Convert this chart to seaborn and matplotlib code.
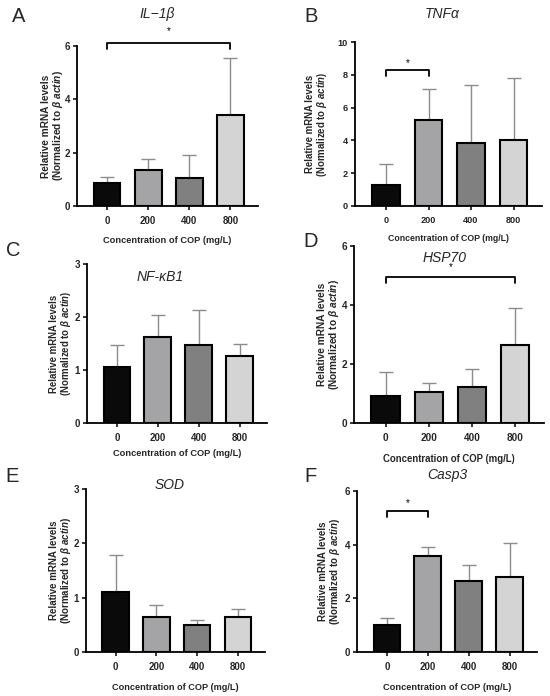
import matplotlib
matplotlib.use("Agg")
import matplotlib.pyplot as plt
import seaborn as sns

# ---- data ----
concentrations = ["0", "200", "400", "800"]
bar_colors = ["#0a0a0a", "#a4a4a6", "#808080", "#d4d4d4"]

panel_letters = ["A", "B", "C", "D", "E", "F"]
gene_names = ["IL\u22121\u03b2", "TNF\u03b1", "NF-\u03baB1", "HSP70", "SOD", "Casp3"]

il1b_mean = [0.86, 1.34, 1.05, 3.43]
il1b_sd = [0.23, 0.44, 0.88, 2.12]
tnfa_mean = [1.30, 5.22, 3.84, 4.04]
tnfa_sd = [1.28, 1.93, 3.56, 3.78]
nfkb1_mean = [1.06, 1.62, 1.47, 1.27]
nfkb1_sd = [0.42, 0.42, 0.66, 0.23]
hsp70_mean = [0.90, 1.04, 1.23, 2.64]
hsp70_sd = [0.82, 0.33, 0.59, 1.25]
sod_mean = [1.10, 0.64, 0.50, 0.65]
sod_sd = [0.68, 0.22, 0.08, 0.14]
casp3_mean = [0.99, 3.59, 2.63, 2.80]
casp3_sd = [0.27, 0.34, 0.62, 1.25]

y_max = [6, 10, 3, 6, 3, 6]
y_step = [2, 2, 1, 2, 1, 2]

# significance brackets: (from bar, to bar, bracket y, tip y, star y)
significance = {
    0: (0, 3, 6.10, 5.87, 6.55),
    1: (0, 1, 8.27, 7.90, 8.70),
    3: (0, 3, 4.95, 4.75, 5.30),
    5: (0, 1, 5.24, 5.04, 5.55),
}

means = [il1b_mean, tnfa_mean, nfkb1_mean, hsp70_mean, sod_mean, casp3_mean]
sds = [il1b_sd, tnfa_sd, nfkb1_sd, hsp70_sd, sod_sd, casp3_sd]

# ---- layout (pixels on a 550 x 696 canvas) ----
W, H = 550, 696
# axes: left, right, top, bottom
axes_px = [
    (77, 258, 46, 206),
    (355, 542, 42, 206),
    (87, 267, 264, 423),
    (354, 544, 246, 423),
    (86, 265, 489, 652),
    (357, 537, 491, 652),
]
title_px = [(157, 14), (442, 14), (160, 277), (445, 258), (170, 485), (447, 475)]
letter_px = [(19, 17), (311, 17), (13, 250), (311, 242), (12, 477), (310, 476)]
xlabel_y_px = [241, 239, 453, 459, 687, 687]
ylabel_x_px = [53, 317, 61, 329, 61, 330]
tick_fs = [7.0, 6.6, 7.0, 7.2, 7.0, 7.0]
xlabel_fs = [6.7, 6.3, 6.7, 6.9, 6.6, 6.7]
ylabel_fs = [7.3, 6.9, 6.9, 7.3, 7.0, 7.0]


def main():
    sns.set_style("ticks")
    plt.rcParams["font.family"] = ["Liberation Sans", "DejaVu Sans"]
    plt.rcParams["mathtext.fontset"] = "custom"
    plt.rcParams["mathtext.rm"] = "Liberation Sans:bold"
    plt.rcParams["mathtext.it"] = "Liberation Sans:italic:bold"
    plt.rcParams["mathtext.bf"] = "Liberation Sans:bold"

    fig = plt.figure(figsize=(W / 100, H / 100), dpi=100)
    fig.patch.set_facecolor("white")

    for i in range(6):
        l, r, t, b = axes_px[i]
        ax = fig.add_axes([l / W, 1 - b / H, (r - l) / W, (b - t) / H])

        sns.barplot(
            x=concentrations,
            y=means[i],
            hue=concentrations,
            palette=bar_colors,
            legend=False,
            width=0.65,
            edgecolor="black",
            linewidth=1.5,
            errorbar=None,
            ax=ax,
        )
        ax.errorbar(
            range(4),
            means[i],
            yerr=[[0] * 4, sds[i]],
            fmt="none",
            ecolor="#8c8c8c",
            elinewidth=1.0,
            capsize=5,
            capthick=1.0,
            zorder=0.9,
        )

        ax.set_xlim(-0.73, 3.67)
        ax.set_ylim(0, y_max[i])
        ax.set_yticks(range(0, y_max[i] + 1, y_step[i]))
        sns.despine(ax=ax)
        for side in ["left", "bottom"]:
            ax.spines[side].set_linewidth(1.3)
            ax.spines[side].set_color("black")
        ax.tick_params(axis="both", width=1.1, color="black",
                       labelsize=tick_fs[i])
        ax.tick_params(axis="y", length=3, pad=2)
        ax.tick_params(axis="x", length=3, pad=4)
        for lab in ax.get_xticklabels() + ax.get_yticklabels():
            lab.set_fontweight("bold")

        ax.set_xlabel("Concentration of COP (mg/L)", fontsize=xlabel_fs[i],
                      fontweight="bold", va="center")
        ax.xaxis.set_label_coords(0.5, (b - xlabel_y_px[i]) / (b - t))
        ax.set_ylabel("Relative mRNA levels\n(Normalized to $\\mathit{\\beta\\ actin}$)",
                      fontsize=ylabel_fs[i], fontweight="bold", va="center",
                      linespacing=1.05)
        ax.yaxis.set_label_coords((ylabel_x_px[i] - l) / (r - l), 0.5)

        if i in significance:
            x0, x1, yb, yt, ys = significance[i]
            ax.plot([x0, x0, x1, x1], [yt, yb, yb, yt], color="black",
                    lw=1.3, clip_on=False)
            ax.text((x0 + x1) / 2, ys, "*", ha="center", va="center",
                    fontsize=7, color="black", clip_on=False)

        tx, ty = title_px[i]
        fig.text(tx / W, 1 - ty / H, gene_names[i], ha="center", va="center",
                 fontsize=10, fontstyle="italic")
        lx, ly = letter_px[i]
        fig.text(lx / W, 1 - ly / H, panel_letters[i], ha="center", va="center",
                 fontsize=14.5)

    fig.savefig("out.png", dpi=100, facecolor="white")
    plt.close(fig)


if __name__ == "__main__":
    main()
